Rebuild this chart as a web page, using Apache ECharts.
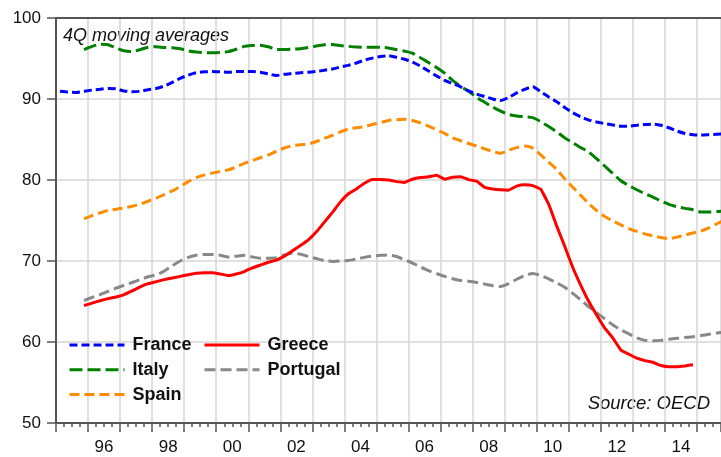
<!DOCTYPE html>
<html>
<head>
<meta charset="utf-8">
<script src="https://cdn.jsdelivr.net/npm/echarts@6/dist/echarts.min.js"></script>
<style>
  html, body { margin: 0; padding: 0; background: #fff; }
  #chart { width: 721px; height: 457px; }
</style>
</head>
<body>
<div id="chart"></div>
<script>
// quarterly data, 4Q moving averages (points sit mid-quarter)
const years = [1995, 1996, 1997, 1998, 1999, 2000, 2001, 2002, 2003, 2004,
               2005, 2006, 2007, 2008, 2009, 2010, 2011, 2012, 2013, 2014, 2015];
const labelYears = [1996, 1998, 2000, 2002, 2004, 2006, 2008, 2010, 2012, 2014];
const labelText = ['96', '98', '00', '02', '04', '06', '08', '10', '12', '14'];

const france = [
  90.95, 90.85, 90.8, 90.95,   91.1, 91.2, 91.3, 91.25,   91.0, 90.9, 90.95, 91.15,
  91.3, 91.6, 92.05, 92.55,    92.95, 93.25, 93.35, 93.4,  93.35, 93.3, 93.4, 93.4,
  93.4, 93.3, 93.1, 92.9,      93.05, 93.15, 93.25, 93.3,  93.4, 93.55, 93.7, 93.95,
  94.15, 94.45, 94.8, 95.05,   95.25, 95.35, 95.15, 94.9,  94.55, 94.05, 93.45, 92.85,
  92.3, 91.9, 91.5, 91.0,      90.6, 90.3, 90.0, 89.8,     90.2, 90.75, 91.2, 91.5,
  90.9, 90.25, 89.65, 88.95,   88.3, 87.8, 87.4, 87.15,    86.95, 86.8, 86.65, 86.65,
  86.75, 86.85, 86.9, 86.75,   86.45, 86.05, 85.75, 85.6,  85.55, 85.6, 85.65, 85.7
];
const italy = [
  null, null, null, 96.1,      96.5, 96.75, 96.7, 96.3,    95.95, 95.85, 96.1, 96.4,
  96.45, 96.35, 96.33, 96.2,   95.95, 95.8, 95.72, 95.72,  95.75, 95.85, 96.15, 96.5,
  96.6, 96.65, 96.45, 96.12,   96.1, 96.15, 96.2, 96.35,   96.55, 96.7, 96.72, 96.6,
  96.5, 96.42, 96.4, 96.4,     96.38, 96.3, 96.1, 95.9,    95.65, 95.1, 94.5, 93.9,
  93.2, 92.3, 91.55, 90.95,    90.2, 89.6, 89.0, 88.5,     88.1, 87.9, 87.82, 87.7,
  87.2, 86.6, 85.95, 85.2,     84.6, 84.0, 83.45, 82.6,    81.7, 80.8, 79.9, 79.3,
  78.8, 78.3, 77.9, 77.4,      77.0, 76.7, 76.5, 76.32,    76.05, 76.05, 76.1, 76.2
];
const spain = [
  null, null, null, 75.2,      75.6, 75.95, 76.25, 76.4,   76.55, 76.75, 77.0, 77.4,
  77.75, 78.2, 78.65, 79.2,    79.8, 80.3, 80.6, 80.85,    81.05, 81.25, 81.6, 82.05,
  82.4, 82.75, 83.1, 83.55,    83.95, 84.25, 84.35, 84.45, 84.75, 85.15, 85.5, 85.95,
  86.3, 86.45, 86.6, 86.85,    87.1, 87.35, 87.45, 87.5,   87.35, 87.05, 86.65, 86.2,
  85.75, 85.2, 84.85, 84.5,    84.2, 83.85, 83.5, 83.3,    83.7, 84.0, 84.2, 83.95,
  83.1, 82.2, 81.3, 80.15,     79.1, 78.1, 77.1, 76.2,     75.5, 74.95, 74.45, 74.0,
  73.65, 73.35, 73.1, 72.9,    72.75, 72.95, 73.2, 73.45,  73.7, 74.1, 74.6, 75.1
];
const greece = [
  null, null, null, 64.5,      64.8, 65.1, 65.35, 65.55,   65.85, 66.3, 66.8, 67.2,
  67.45, 67.7, 67.9, 68.1,     68.3, 68.5, 68.55, 68.55,   68.4, 68.2, 68.4, 68.7,
  69.15, 69.5, 69.85, 70.1,    70.6, 71.25, 71.9, 72.6,    73.6, 74.8, 76.0, 77.3,
  78.3, 78.9, 79.6, 80.05,     80.05, 80.0, 79.8, 79.7,    80.1, 80.3, 80.4, 80.6,
  80.1, 80.35, 80.4, 80.05,    79.85, 79.1, 78.9, 78.8,    78.75, 79.25, 79.4, 79.3,
  78.85, 77.0, 74.3, 71.8,     69.2, 67.0, 65.0, 63.3,     61.7, 60.5, 59.0, 58.5,
  58.0, 57.7, 57.5, 57.1,      56.95, 56.95, 57.05, 57.2,  null, null, null, null
];
const portugal = [
  null, null, null, 65.1,      65.5, 65.85, 66.25, 66.65,  67.0, 67.35, 67.7, 68.05,
  68.3, 68.75, 69.4, 70.0,     70.45, 70.7, 70.8, 70.8,    70.7, 70.5, 70.6, 70.7,
  70.5, 70.35, 70.35, 70.4,    70.75, 70.95, 70.85, 70.55, 70.3, 70.05, 69.95, 70.0,
  70.05, 70.25, 70.45, 70.6,   70.7, 70.75, 70.55, 70.15,  69.75, 69.25, 68.8, 68.45,
  68.1, 67.8, 67.6, 67.5,      67.35, 67.15, 66.95, 66.85, 67.2, 67.75, 68.2, 68.45,
  68.2, 67.8, 67.3, 66.75,     66.0, 65.2, 64.35, 63.6,    62.85, 62.1, 61.5, 61.0,
  60.5, 60.2, 60.15, 60.2,     60.35, 60.45, 60.55, 60.65, 60.8, 60.95, 61.1, 61.25
];

// quarter midpoints: 1995Q1 -> 1995.125 ...
const quarters = [];
years.forEach(function (y) {
  [1, 2, 3, 4].forEach(function (q) { quarters.push(y + (q - 0.5) / 4); });
});

function pairs(vals) {
  const out = [];
  vals.forEach(function (v, i) { if (v !== null) out.push([quarters[i], v]); });
  return out;
}

const FONT = 'Liberation Sans, Arial, Helvetica, sans-serif';
const AXIS = '#555';

function lineSeries(name, vals, color, dash) {
  return {
    name: name,
    type: 'line',
    data: pairs(vals),
    showSymbol: false,
    symbol: 'none',
    smooth: 0.2,
    clip: true,
    lineStyle: { color: color, width: 3, type: dash },
    itemStyle: { color: color },
    emphasis: { disabled: true }
  };
}

const chart = echarts.init(document.getElementById('chart'));

const legendBase = {
  orient: 'vertical',
  top: 336,
  padding: 0,
  itemWidth: 55,
  itemHeight: 14,
  itemGap: 6.8,
  selectedMode: false,
  itemStyle: { opacity: 0 },
  lineStyle: { width: 3 },
  textStyle: { fontFamily: FONT, fontSize: 18, fontWeight: 'bold', color: '#111',
               padding: [0, 0, 0, 3] }
};

chart.setOption({
  animation: false,
  backgroundColor: '#fff',
  grid: { left: 56, right: 0, top: 18, bottom: 34, outerBoundsMode: 'none', containLabel: false },
  xAxis: [
    {
      type: 'value', position: 'bottom', min: 1995, max: 2015.75, interval: 1,
      axisLine: { show: true, lineStyle: { color: AXIS, width: 2 } },
      axisTick: { show: true, length: 9, lineStyle: { color: AXIS, width: 1.5 } },
      minorTick: { show: true, splitNumber: 4, length: 4, lineStyle: { color: AXIS, width: 1.5 } },
      axisLabel: { show: false },
      splitLine: { show: true, lineStyle: { color: '#d6d6d6', width: 1.5 } }
    },
    {
      // labels sit in the middle of each year
      type: 'value', position: 'bottom', min: 1995, max: 2015.75, interval: 0.5,
      axisLine: { show: false }, axisTick: { show: false }, splitLine: { show: false },
      axisLabel: {
        margin: 16, color: '#111', fontFamily: FONT, fontSize: 17,
        formatter: function (v) {
          const i = labelYears.indexOf(v - 0.5);
          return i >= 0 ? labelText[i] : '';
        }
      }
    },
    {
      // top border
      type: 'value', position: 'top', min: 1995, max: 2015.75,
      axisLine: { show: true, lineStyle: { color: AXIS, width: 2 } },
      axisTick: { show: false }, axisLabel: { show: false }, splitLine: { show: false }
    }
  ],
  yAxis: {
    type: 'value', min: 50, max: 100, interval: 10,
    axisLine: { show: true, lineStyle: { color: AXIS, width: 2 } },
    axisTick: { show: true, length: 9, lineStyle: { color: AXIS, width: 1.5 } },
    axisLabel: { margin: 15, color: '#111', fontFamily: FONT, fontSize: 17 },
    splitLine: { show: true, lineStyle: { color: '#d6d6d6', width: 1.5 } }
  },
  legend: [
    Object.assign({}, legendBase, { left: 68, data: ['France', 'Italy', 'Spain'] }),
    Object.assign({}, legendBase, { left: 203, data: ['Greece', 'Portugal'] })
  ],
  graphic: [
    { type: 'text', left: 63, top: 27,
      style: { text: '4Q moving averages', fill: '#111', font: 'italic 18px ' + FONT } },
    { type: 'text', right: 11, top: 394,
      style: { text: 'Source: OECD', fill: '#111', font: 'italic 18.5px ' + FONT } }
  ],
  series: [
    lineSeries('Portugal', portugal, '#888888', [11, 5]),
    lineSeries('Spain', spain, '#ff8c00', [10, 5]),
    lineSeries('Italy', italy, '#008000', [13, 5]),
    lineSeries('France', france, '#0000ff', [8, 4]),
    Object.assign(lineSeries('Greece', greece, '#ff0000', 'solid'), { smooth: 0.1 })
  ]
});
</script>
</body>
</html>
